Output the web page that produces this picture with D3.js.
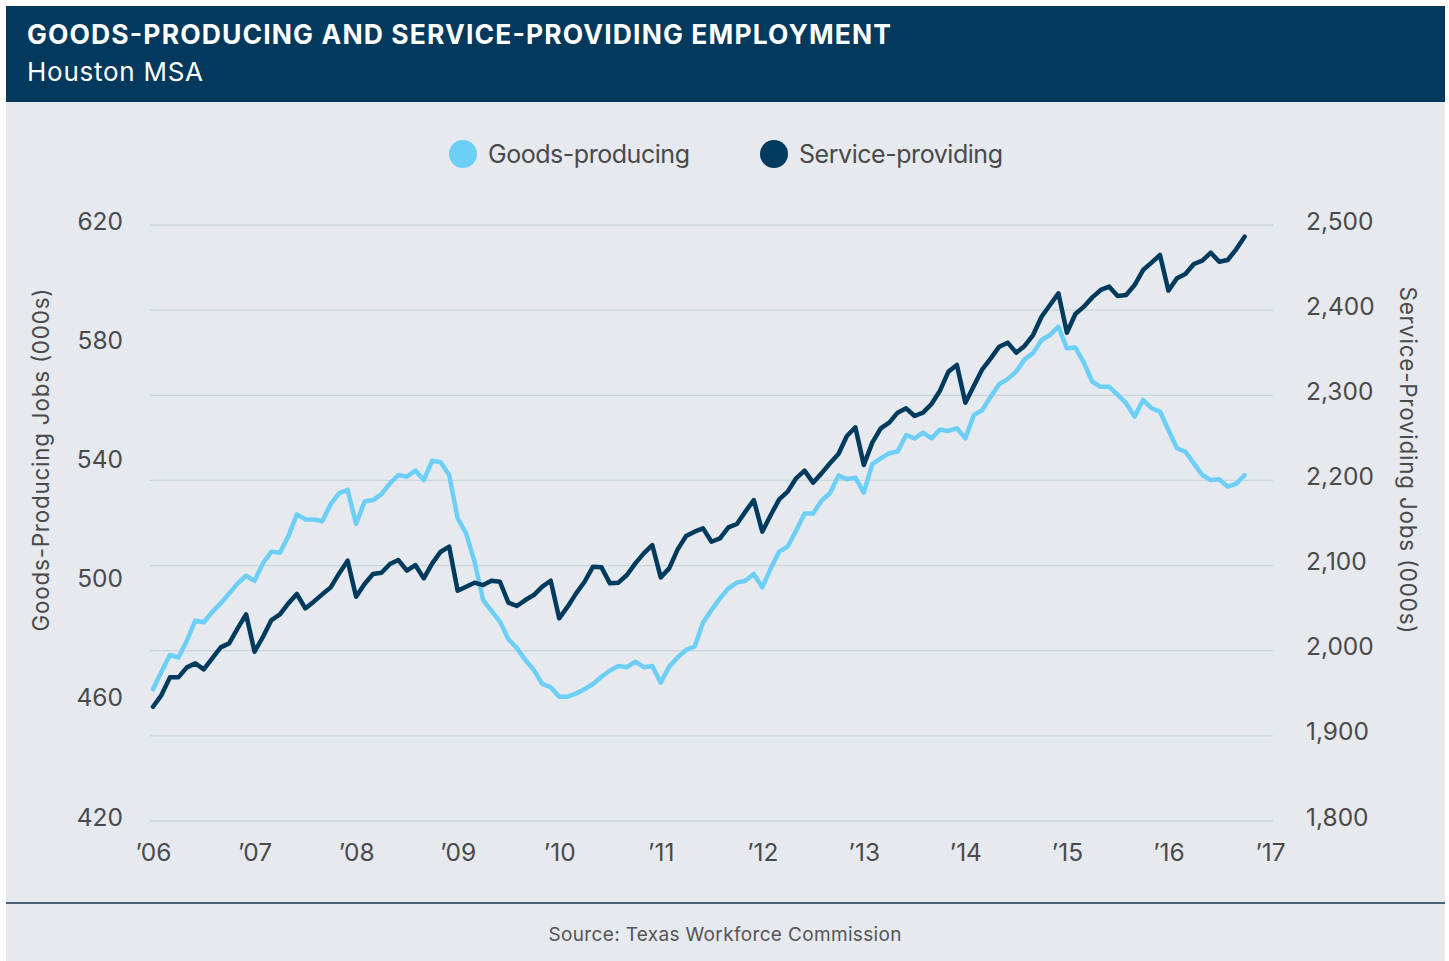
<!DOCTYPE html>
<html>
<head>
<meta charset="utf-8">
<script src="https://cdn.jsdelivr.net/npm/d3@7"></script>
<style>
  html, body { margin: 0; padding: 0; background: #ffffff; }
  svg { display: block; }
</style>
</head>
<body>
<svg id="chart" width="1449" height="961"></svg>
<script>
// Monthly employment, Houston MSA, Jan 2006 – Oct 2016 (thousands of jobs)
const startYear = 2006;
const goodsProducing = [
  464.2, 470.1, 475.7, 474.8, 480.5, 487.2, 486.7, 490.2, 493.0, 496.4, 499.7, 502.3,
  500.6, 506.5, 510.4, 510.0, 515.6, 522.9, 521.2, 521.2, 520.6, 526.4, 530.0, 531.1,
  519.7, 527.2, 527.7, 529.7, 533.3, 536.1, 535.5, 537.6, 534.4, 540.9, 540.4, 536.1,
  521.6, 516.5, 507.0, 494.2, 490.5, 486.9, 481.0, 478.0, 474.0, 470.7, 466.0, 464.9,
  461.7, 461.7, 462.8, 464.2, 466.0, 468.4, 470.5, 472.0, 471.6, 473.5, 471.6, 472.0,
  466.4, 471.8, 474.9, 477.4, 478.5, 486.6, 490.8, 494.7, 498.1, 500.0, 500.6, 502.9,
  498.4, 504.8, 510.4, 512.1, 517.4, 523.2, 523.2, 527.5, 530.0, 535.9, 534.7, 535.2,
  530.2, 539.8, 541.7, 543.4, 544.0, 549.5, 548.4, 550.3, 548.4, 551.4, 550.9, 551.8,
  548.4, 556.2, 557.9, 562.4, 566.6, 568.3, 570.8, 574.9, 577.0, 581.4, 583.1, 585.9,
  578.6, 578.9, 573.8, 567.4, 565.7, 565.7, 563.0, 560.2, 555.7, 561.3, 558.5, 557.4,
  551.2, 545.1, 543.9, 540.0, 536.1, 534.4, 534.7, 532.2, 533.1, 536.1
];
const serviceProviding = [
  1934.2, 1947.9, 1968.7, 1968.7, 1980.4, 1985.1, 1978.1, 1991.0, 2003.9, 2008.6, 2026.2, 2042.7,
  1998.8, 2016.4, 2036.0, 2042.7, 2055.6, 2066.6, 2049.7, 2057.6, 2066.2, 2074.4, 2090.8, 2105.7,
  2063.4, 2078.3, 2090.1, 2091.6, 2101.8, 2106.5, 2094.0, 2100.6, 2085.0, 2102.6, 2116.3, 2122.2,
  2070.5, 2075.2, 2079.9, 2077.1, 2082.2, 2081.0, 2056.4, 2052.5, 2059.5, 2065.4, 2075.2, 2082.2,
  2038.0, 2051.7, 2067.3, 2081.0, 2098.7, 2097.9, 2079.1, 2079.9, 2088.9, 2102.6, 2114.3, 2124.1,
  2086.1, 2096.7, 2119.0, 2134.7, 2139.8, 2143.7, 2128.0, 2131.9, 2144.9, 2148.8, 2163.3, 2177.0,
  2139.8, 2159.4, 2177.8, 2186.8, 2202.5, 2211.5, 2197.4, 2208.3, 2220.1, 2231.0, 2252.2, 2262.4,
  2218.1, 2244.4, 2261.2, 2267.9, 2279.6, 2284.7, 2275.7, 2279.6, 2289.8, 2305.4, 2327.8, 2335.6,
  2291.3, 2310.9, 2330.5, 2343.4, 2357.1, 2361.8, 2350.1, 2357.9, 2370.8, 2392.3, 2406.0, 2419.7,
  2373.5, 2395.5, 2404.1, 2415.0, 2423.7, 2427.6, 2416.6, 2417.8, 2429.5, 2447.1, 2455.8, 2464.8,
  2422.9, 2437.4, 2442.4, 2454.2, 2458.1, 2467.5, 2456.9, 2458.9, 2471.4, 2486.3
];
const yearTicks = [2006, 2007, 2008, 2009, 2010, 2011, 2012, 2013, 2014, 2015, 2016, 2017];
const goodsTicks = [420, 460, 500, 540, 580, 620];
const serviceTicks = [1800, 1900, 2000, 2100, 2200, 2300, 2400, 2500];
const seriesNames = ["Goods-producing", "Service-providing"];

const colors = { goods: "#6dcff6", service: "#003a5d", header: "#03395c", panel: "#e6e9ee",
                 grid: "#c8d6db", text: "#4a4a4a" };
const font = "Inter, Lato, sans-serif";

const svg = d3.select("#chart");
const W = 1449, H = 961;

// Stretch or tighten a label's letter spacing so it fills a set width
function fitWidth(sel, width) {
  sel.attr("textLength", width).attr("lengthAdjust", "spacing");
  return sel;
}

// Panel background and header band
svg.append("rect").attr("x", 6).attr("y", 6).attr("width", W - 10).attr("height", H - 6)
  .attr("fill", colors.panel);
svg.append("rect").attr("x", 6).attr("y", 6).attr("width", W - 10).attr("height", 96)
  .attr("fill", colors.header);
fitWidth(svg.append("text").attr("x", 27).attr("y", 44)
  .attr("font-family", font).attr("font-weight", 700).attr("font-size", 26.5)
  .attr("fill", "#ffffff").text("GOODS-PRODUCING AND SERVICE-PROVIDING EMPLOYMENT"), 864);
fitWidth(svg.append("text").attr("x", 27).attr("y", 81)
  .attr("font-family", font).attr("font-size", 26)
  .attr("fill", "#ffffff").text("Houston MSA"), 176);

// Scales
const plot = { left: 150, right: 1273, top: 225, bottom: 821 };
const x = d3.scaleLinear().domain([2006, 2017]).range([153, 1270]);
const yGoods = d3.scaleLinear().domain([420, 620]).range([plot.bottom, plot.top]);
const yService = d3.scaleLinear().domain([1800, 2500]).range([plot.bottom, plot.top]);
const monthX = i => x(startYear + i / 12);

// Grid lines follow the right-hand axis
svg.append("g")
  .selectAll("line").data(serviceTicks).join("line")
  .attr("x1", plot.left).attr("x2", plot.right)
  .attr("y1", d => yService(d)).attr("y2", d => yService(d))
  .attr("stroke", colors.grid).attr("stroke-width", 1.3);

// Axes
const leftAxis = svg.append("g").attr("transform", `translate(${123},0)`)
  .call(d3.axisLeft(yGoods).tickValues(goodsTicks).tickSize(0).tickPadding(0));
const rightAxis = svg.append("g").attr("transform", `translate(${1306},0)`)
  .call(d3.axisRight(yService).tickValues(serviceTicks).tickSize(0).tickPadding(0)
    .tickFormat(d3.format(",")));
const bottomAxis = svg.append("g").attr("transform", `translate(0,${841})`)
  .call(d3.axisBottom(x).tickValues(yearTicks).tickSize(0).tickPadding(0)
    .tickFormat(d => "\u2019" + String(d).slice(2)));
[leftAxis, rightAxis, bottomAxis].forEach(g => {
  g.select(".domain").remove();
  g.selectAll("text").attr("font-family", font).attr("font-size", 24.5)
    .attr("fill", colors.text);
});
leftAxis.selectAll("text").attr("dy", "4px");
rightAxis.selectAll("text").attr("dy", "4px");
bottomAxis.selectAll("text").attr("y", 0).attr("dy", "20px");

// Axis titles
fitWidth(svg.append("text")
  .attr("transform", "translate(49,460) rotate(-90)")
  .attr("text-anchor", "middle").attr("font-family", font).attr("font-size", 22.5)
  .attr("fill", colors.text).text("Goods-Producing Jobs (000s)"), 343);
fitWidth(svg.append("text")
  .attr("transform", "translate(1400,460) rotate(90)")
  .attr("text-anchor", "middle").attr("font-family", font).attr("font-size", 22.5)
  .attr("fill", colors.text).text("Service-Providing Jobs (000s)"), 347);

// Lines
const goodsLine = d3.line().x((d, i) => monthX(i)).y(d => yGoods(d));
const serviceLine = d3.line().x((d, i) => monthX(i)).y(d => yService(d));
svg.append("path").datum(goodsProducing).attr("d", goodsLine)
  .attr("fill", "none").attr("stroke", colors.goods).attr("stroke-width", 4.5)
  .attr("stroke-linejoin", "round").attr("stroke-linecap", "round");
svg.append("path").datum(serviceProviding).attr("d", serviceLine)
  .attr("fill", "none").attr("stroke", colors.service).attr("stroke-width", 4.5)
  .attr("stroke-linejoin", "round").attr("stroke-linecap", "round");

// Legend
const legendItems = [
  { name: seriesNames[0], color: colors.goods, cx: 463, width: 202 },
  { name: seriesNames[1], color: colors.service, cx: 774, width: 204 }
];
const legend = svg.append("g").selectAll("g").data(legendItems).join("g");
legend.append("circle").attr("cx", d => d.cx).attr("cy", 154).attr("r", 14)
  .attr("fill", d => d.color);
legend.append("text").attr("x", d => d.cx + 25).attr("y", 154).attr("dy", "8.5px")
  .attr("font-family", font).attr("font-size", 25).attr("fill", colors.text)
  .attr("textLength", d => d.width).attr("lengthAdjust", "spacing")
  .text(d => d.name);

// Footer
svg.append("line").attr("x1", 6).attr("x2", W - 4).attr("y1", 903).attr("y2", 903)
  .attr("stroke", "#4b6377").attr("stroke-width", 2);
fitWidth(svg.append("text").attr("x", 725).attr("y", 934).attr("dy", "6.5px")
  .attr("text-anchor", "middle").attr("font-family", font).attr("font-size", 19)
  .attr("fill", "#555555").text("Source: Texas Workforce Commission"), 353);
</script>
</body>
</html>
